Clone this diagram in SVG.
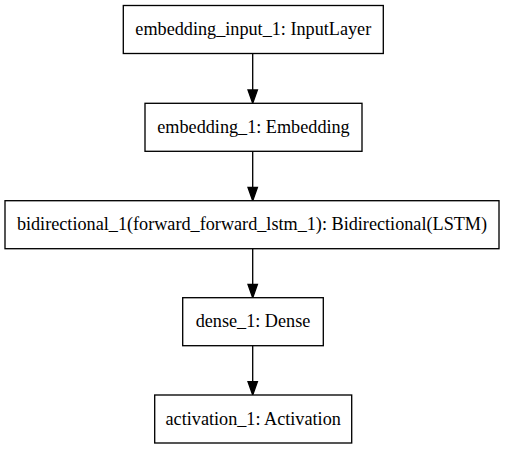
<svg xmlns="http://www.w3.org/2000/svg" width="507" height="449" viewBox="0 0 507 449">
<style>
.box{fill:#fff;stroke:#000;stroke-width:1.33}
.lbl{font-family:"Liberation Serif","Times New Roman",serif;font-size:18.2px;fill:#000;text-anchor:middle}
.edge{stroke:#000;stroke-width:1.33;fill:none}
.head{fill:#000;stroke:#000;stroke-width:1.33}
</style>
<rect width="507" height="449" fill="#fff"/>
<g id="edges">
<path class="edge" d="M252.7 53.5V90"/><polygon class="head" points="248,90 257.4,90 252.7,103.3"/>
<path class="edge" d="M252.7 151.3V187.4"/><polygon class="head" points="248,187.4 257.4,187.4 252.7,200.7"/>
<path class="edge" d="M252.7 248.7V284.4"/><polygon class="head" points="248,284.4 257.4,284.4 252.7,297.7"/>
<path class="edge" d="M252.7 345.7V381.7"/><polygon class="head" points="248,381.7 257.4,381.7 252.7,395"/>
</g>
<g id="embedding_input_1"><rect class="box" x="123.3" y="5.5" width="260" height="48"/><text class="lbl" x="253.3" y="35.1">embedding_input_1: InputLayer</text></g>
<g id="embedding_1"><rect class="box" x="145" y="103.3" width="217" height="48"/><text class="lbl" x="253.5" y="132.9">embedding_1: Embedding</text></g>
<g id="bidirectional_1"><rect class="box" x="5" y="200.7" width="494" height="48"/><text class="lbl" x="252" y="230.3">bidirectional_1(forward_forward_lstm_1): Bidirectional(LSTM)</text></g>
<g id="dense_1"><rect class="box" x="182.7" y="297.7" width="140.6" height="48"/><text class="lbl" x="253" y="327.3">dense_1: Dense</text></g>
<g id="activation_1"><rect class="box" x="154.7" y="395" width="197" height="48"/><text class="lbl" x="253.2" y="424.6">activation_1: Activation</text></g>
</svg>
